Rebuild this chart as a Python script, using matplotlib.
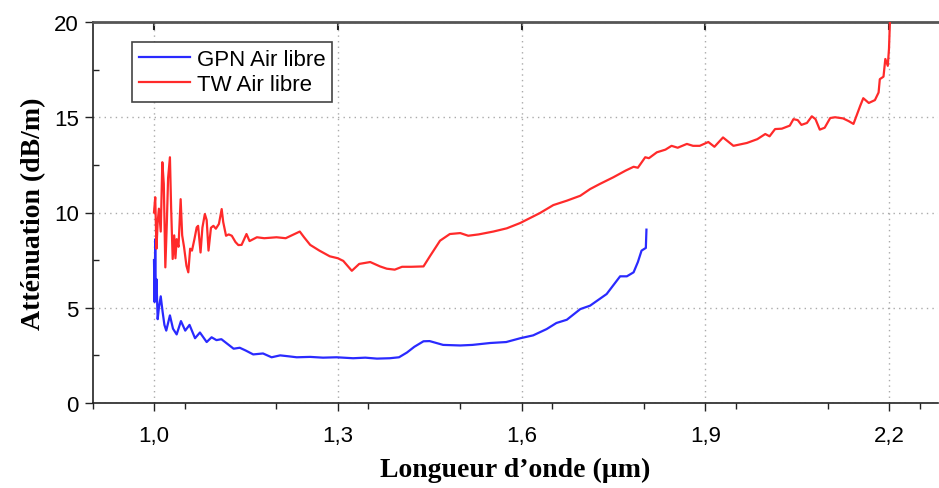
import matplotlib
matplotlib.use("Agg")
import matplotlib.pyplot as plt
from matplotlib.ticker import FixedLocator, MultipleLocator

# ---- data ----
gpn_x = [1.000, 1.001, 1.002, 1.003, 1.004, 1.006, 1.008, 1.011, 1.014, 1.017,
         1.020, 1.026, 1.031, 1.037, 1.044, 1.051, 1.058, 1.067, 1.075, 1.086,
         1.094, 1.102, 1.110, 1.120, 1.130, 1.140, 1.150, 1.162, 1.178, 1.192,
         1.206, 1.220, 1.233, 1.255, 1.276, 1.298, 1.325, 1.345, 1.364, 1.385,
         1.400, 1.413, 1.425, 1.440, 1.450, 1.472, 1.500, 1.520, 1.549, 1.575,
         1.598, 1.619, 1.641, 1.657, 1.674, 1.696, 1.712, 1.739, 1.761, 1.772,
         1.783, 1.790, 1.796, 1.803, 1.804]
gpn_y = [7.5, 5.3, 8.6, 5.4, 6.5, 4.4, 5.0, 5.6, 4.8, 4.1,
         3.8, 4.6, 3.9, 3.6, 4.3, 3.8, 4.1, 3.4, 3.7, 3.2,
         3.45, 3.3, 3.35, 3.1, 2.85, 2.9, 2.75, 2.55, 2.6, 2.4,
         2.5, 2.45, 2.4, 2.42, 2.38, 2.4, 2.35, 2.38, 2.33, 2.35,
         2.4, 2.65, 2.95, 3.24, 3.25, 3.05, 3.02, 3.05, 3.15, 3.2,
         3.4, 3.55, 3.88, 4.2, 4.37, 4.93, 5.11, 5.72, 6.65, 6.65,
         6.86, 7.4, 8.0, 8.14, 9.1]

tw_x = [1.000, 1.002, 1.004, 1.006, 1.008, 1.011, 1.0136, 1.016, 1.0185, 1.021,
        1.023, 1.026, 1.028, 1.0305, 1.033, 1.035, 1.037, 1.040, 1.0435, 1.046,
        1.049, 1.053, 1.056, 1.059, 1.062, 1.066, 1.0697, 1.072, 1.074, 1.076,
        1.079, 1.083, 1.086, 1.089, 1.093, 1.097, 1.101, 1.106, 1.1105, 1.113,
        1.1176, 1.122, 1.127, 1.133, 1.1377, 1.143, 1.151, 1.156, 1.168, 1.180,
        1.200, 1.215, 1.238, 1.245, 1.255, 1.270, 1.287, 1.300, 1.309, 1.323,
        1.335, 1.353, 1.369, 1.380, 1.393, 1.405, 1.420, 1.440, 1.451, 1.467,
        1.483, 1.500, 1.513, 1.530, 1.554, 1.576, 1.598, 1.630, 1.652, 1.674,
        1.696, 1.712, 1.728, 1.750, 1.770, 1.783, 1.790, 1.802, 1.808, 1.821,
        1.835, 1.845, 1.855, 1.870, 1.880, 1.891, 1.905, 1.915, 1.929, 1.946,
        1.968, 1.985, 1.998, 2.005, 2.014, 2.025, 2.038, 2.044, 2.051, 2.057,
        2.066, 2.074, 2.080, 2.087, 2.095, 2.104, 2.112, 2.125, 2.134, 2.142,
        2.153, 2.158, 2.167, 2.177, 2.183, 2.185, 2.191, 2.194, 2.198, 2.200,
        2.202]
tw_y = [10.0, 10.8, 8.1, 9.5, 10.2, 9.0, 12.64, 11.5, 7.12, 9.5,
        11.8, 12.9, 10.2, 7.56, 8.8, 7.6, 8.6, 8.2, 10.7, 8.8,
        8.2, 7.2, 6.86, 8.1, 8.0, 8.6, 9.22, 9.3, 8.6, 7.9,
        9.2, 9.92, 9.6, 8.0, 9.2, 9.3, 9.15, 9.4, 10.18, 9.5,
        8.78, 8.85, 8.78, 8.45, 8.29, 8.3, 8.87, 8.5, 8.7, 8.65,
        8.7, 8.65, 9.0, 8.7, 8.3, 8.0, 7.7, 7.6, 7.46, 6.94,
        7.3, 7.4, 7.17, 7.05, 7.0, 7.15, 7.15, 7.17, 7.73, 8.52,
        8.87, 8.92, 8.78, 8.85, 9.0, 9.17, 9.45, 9.97, 10.39, 10.62,
        10.88, 11.23, 11.5, 11.85, 12.2, 12.4, 12.35, 12.9, 12.85, 13.16,
        13.3, 13.5, 13.4, 13.6, 13.5, 13.5, 13.7, 13.45, 13.94, 13.5,
        13.65, 13.85, 14.12, 14.0, 14.38, 14.4, 14.56, 14.9, 14.85, 14.6,
        14.7, 15.05, 14.9, 14.35, 14.45, 14.96, 15.0, 14.94, 14.8, 14.65,
        15.6, 16.0, 15.75, 15.9, 16.3, 17.0, 17.13, 18.06, 17.7, 18.6,
        20.5]

x_ticks = [1.0, 1.3, 1.6, 1.9, 2.2]
x_tick_labels = ["1,0", "1,3", "1,6", "1,9", "2,2"]
y_ticks = [0, 5, 10, 15, 20]
y_tick_labels = ["0", "5", "10", "15", "20"]
series_labels = ["GPN Air libre", "TW Air libre"]
x_label = "Longueur d\u2019onde (\u00b5m)"
y_label = "Att\u00e9nuation (dB/m)"

# ---- figure ----
fig = plt.figure(figsize=(9.39, 4.89), dpi=100)
ax = fig.add_axes([92.75 / 939, 1 - 404 / 489, (938 - 92.75) / 939, (404 - 23) / 489])

ax.plot(gpn_x, gpn_y, color="#2a2aff", lw=1.6, label=series_labels[0], zorder=3)
ax.plot(tw_x, tw_y, color="#ff2a2a", lw=1.6, label=series_labels[1], zorder=3)

ax.set_xlim(0.9, 2.28)
ax.set_ylim(0, 20)

ax.xaxis.set_major_locator(FixedLocator(x_ticks))
ax.set_xticklabels(x_tick_labels)
ax.xaxis.set_minor_locator(MultipleLocator(0.15))
ax.yaxis.set_major_locator(FixedLocator(y_ticks))
ax.set_yticklabels(y_tick_labels)
ax.yaxis.set_minor_locator(MultipleLocator(2.5))

tickfont = "Liberation Sans"
for lab in ax.get_xticklabels() + ax.get_yticklabels():
    lab.set_fontfamily(tickfont)
    lab.set_fontsize(16)

ax.tick_params(axis="x", which="major", direction="out", length=6, width=1, pad=10,
               color="#222222")
ax.tick_params(axis="x", which="minor", direction="out", length=4, width=1, color="#222222")
ax.tick_params(axis="y", which="major", direction="out", length=6, width=1, pad=4, color="#222222")
ax.tick_params(axis="y", which="minor", direction="in", length=4, width=1, color="#222222")

# top ticks inward at major positions
sec = ax.secondary_xaxis("top")
sec.xaxis.set_major_locator(FixedLocator(x_ticks))
sec.tick_params(direction="in", length=6, width=1.5, labeltop=False, color="#222222")
sec.spines["top"].set_visible(False)

ax.grid(True, which="major", linestyle=(0, (1, 3)), color="#aaaaaa", lw=1)

for s in ["left", "bottom"]:
    ax.spines[s].set_color("#222222")
    ax.spines[s].set_linewidth(1.2)
ax.spines["top"].set_color("#555555")
ax.spines["top"].set_linewidth(2)
ax.spines["right"].set_visible(False)

ax.set_xlabel(x_label, fontfamily="Liberation Serif", fontweight="bold", fontsize=20, labelpad=8)
ax.set_ylabel(y_label, fontfamily="Liberation Serif", fontweight="bold", fontsize=20, labelpad=6)

leg = ax.legend(loc="upper left", bbox_to_anchor=(0.047, 0.9475), borderaxespad=0,
                prop={"family": "Liberation Sans", "size": 16}, handlelength=2.3,
                handletextpad=0.3, borderpad=0.3, labelspacing=0.2,
                fancybox=False, frameon=True, framealpha=1)
leg.get_frame().set_edgecolor("#444444")
leg.get_frame().set_linewidth(1.2)

fig.savefig("out.png", dpi=100)
